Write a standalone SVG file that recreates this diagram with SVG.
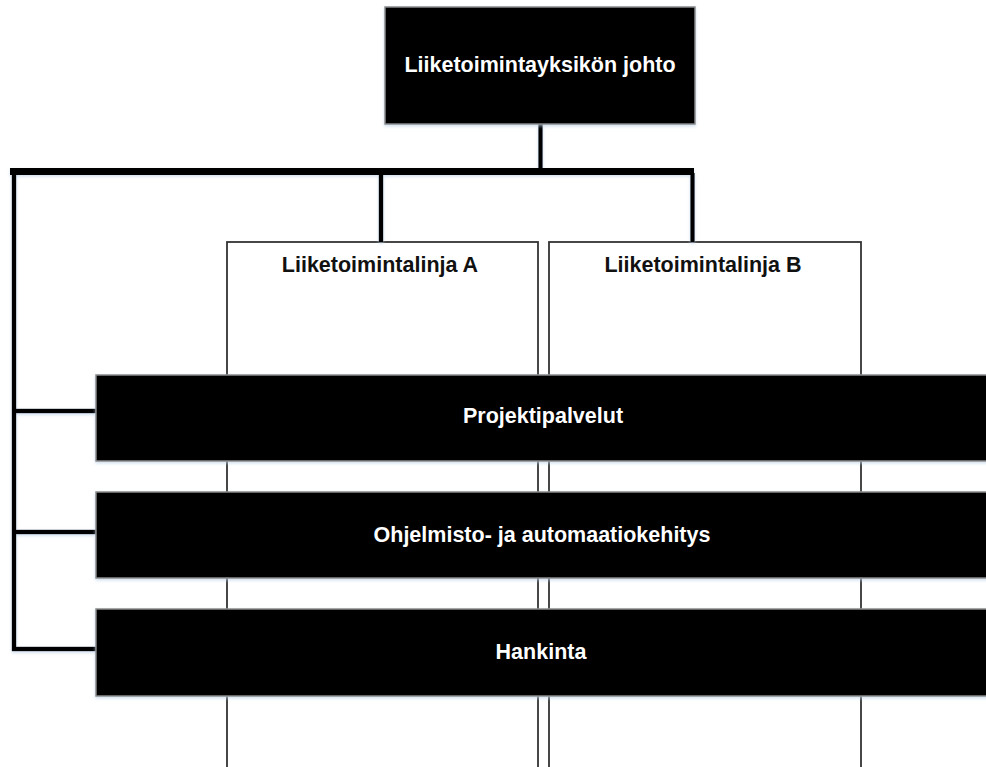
<svg xmlns="http://www.w3.org/2000/svg" width="986" height="767" viewBox="0 0 986 767">
  <defs>
    <filter id="soft" x="-5%" y="-5%" width="110%" height="120%">
      <feDropShadow dx="0" dy="1.5" stdDeviation="1.5" flood-color="#b9cfe6" flood-opacity="0.7"/>
    </filter>
    <!-- user-space region so zero-width lines still get the glow -->
    <filter id="soft-line" filterUnits="userSpaceOnUse" x="0" y="0" width="986" height="767">
      <feDropShadow dx="0" dy="1.5" stdDeviation="1.5" flood-color="#b9cfe6" flood-opacity="0.7"/>
    </filter>
  </defs>
  <style>
    .line-box { fill: #ffffff; stroke: #333333; stroke-width: 1.8; }
    .dark-box { fill: #000000; stroke: #8a8a8a; stroke-width: 1.5; filter: url(#soft); }
    .conn { stroke: #000000; fill: none; stroke-linecap: butt; }
    .thick { stroke-width: 7; }
    .mid { stroke-width: 4.5; }
    .label { font-family: "Liberation Sans", Arial, sans-serif; font-weight: bold; font-size: 21.5px; text-anchor: middle; }
    .light { fill: #ffffff; }
    .ink { fill: #111111; }
  </style>

  <rect width="986" height="767" fill="#ffffff"/>

  <!-- business lines: tall columns running behind the function bars -->
  <g id="line-a">
    <rect class="line-box" x="227" y="242" width="311" height="540"/>
    <text class="label ink" x="380" y="272">Liiketoimintalinja A</text>
  </g>
  <g id="line-b">
    <rect class="line-box" x="549" y="242" width="312" height="540"/>
    <text class="label ink" x="703" y="272">Liiketoimintalinja B</text>
  </g>

  <!-- connectors -->
  <g id="connectors" filter="url(#soft-line)">
    <line class="conn mid" x1="540.5" y1="124" x2="540.5" y2="169"/>
    <line class="conn thick" x1="10" y1="171.5" x2="694" y2="171.5"/>
    <line class="conn mid" x1="381" y1="173" x2="381" y2="242"/>
    <line class="conn mid" x1="692.5" y1="173" x2="692.5" y2="242"/>
    <line class="conn mid" x1="14" y1="173" x2="14" y2="651"/>
    <line class="conn mid" x1="12" y1="411" x2="96" y2="411"/>
    <line class="conn mid" x1="12" y1="532" x2="96" y2="532"/>
    <line class="conn mid" x1="12" y1="649" x2="96" y2="649"/>
  </g>

  <!-- management -->
  <g id="management">
    <rect class="dark-box" x="385" y="7" width="310" height="117"/>
    <text class="label light" x="540" y="72">Liiketoimintayksikön johto</text>
  </g>

  <!-- cross-functional units -->
  <g id="project-services">
    <rect class="dark-box" x="96" y="375" width="900" height="86"/>
    <text class="label light" x="543" y="423">Projektipalvelut</text>
  </g>
  <g id="software-automation">
    <rect class="dark-box" x="96" y="492" width="900" height="86"/>
    <text class="label light" x="542" y="542">Ohjelmisto- ja automaatiokehitys</text>
  </g>
  <g id="procurement">
    <rect class="dark-box" x="96" y="609" width="900" height="87"/>
    <text class="label light" x="541" y="659">Hankinta</text>
  </g>
</svg>
